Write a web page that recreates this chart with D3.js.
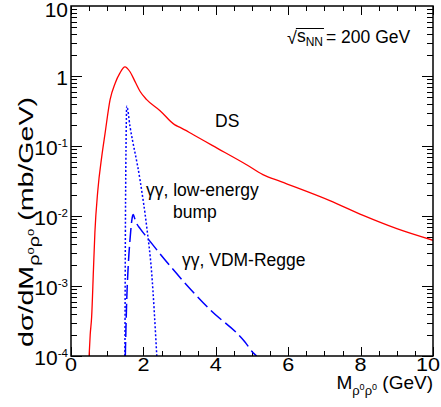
<!DOCTYPE html>
<html><head><meta charset="utf-8">
<script src="https://cdn.jsdelivr.net/npm/d3@7"></script>
<style>
body{margin:0;background:#fff}
svg{display:block}
text{font-family:"Liberation Sans",Arial,Helvetica,sans-serif;fill:#000}
</style>
</head><body>
<svg id="c" width="441" height="407"></svg>
<script>
// ---- data ----
const dsMass  = [0.50, 0.53, 0.57, 0.62, 0.66, 0.74, 0.85, 0.94, 1.08, 1.22, 1.35, 1.49, 1.63, 1.77, 1.91, 2.09, 2.46, 2.87, 3.00, 3.38, 3.90, 4.85, 5.30, 5.80, 7.15, 8.07, 9.00, 10.0];
const dsXsec  = [1e-4, 2.0e-4, 3.6e-4, 1.7e-3, 5.8e-3, 0.023, 0.071, 0.15, 0.46, 0.79, 1.10, 1.35, 1.15, 0.83, 0.60, 0.46, 0.32, 0.20, 0.186, 0.145, 0.102, 0.054, 0.039, 0.031, 0.0166, 0.0102, 0.0066, 0.0045];

const bumpMass = [1.49, 1.50, 1.52, 1.54, 1.63, 1.91, 2.09, 2.23, 2.37];
const bumpXsec = [1e-4, 3e-3, 0.1, 0.37, 0.19, 0.032, 0.0071, 0.0015, 1e-4];

const vdmMass = [1.50, 1.54, 1.58, 1.63, 1.70, 1.72, 1.76, 1.81, 1.91, 2.09, 3.84, 4.80, 5.04, 5.13];
const vdmXsec = [1e-4, 6.5e-4, 1.9e-3, 4.6e-3, 0.0100, 0.0105, 0.0092, 0.0079, 0.0066, 0.0050, 4.6e-4, 1.6e-4, 1.1e-4, 1e-4];

const xTickLabels = [0, 2, 4, 6, 8, 10];
const yTickExps = [1, 0, -1, -2, -3, -4];

// ---- layout ----
const W = 441;
const L = 71, R = 433, T = 6, B = 356;
const svg = d3.select("#c");
const x = d3.scaleLinear().domain([0, 10]).range([L, R]);
const y = d3.scaleLog().domain([1e-4, 10]).range([B, T]);

svg.append("defs").append("clipPath").attr("id", "clip")
  .append("rect").attr("x", L).attr("y", T).attr("width", R - L).attr("height", B - T);

// ---- ticks ----
const tk = svg.append("g").attr("stroke", "#000").attr("stroke-width", 1);
d3.range(0, 10.001, 0.5).forEach(v => {
  const major = Math.abs(v % 2) < 1e-6;
  const len = major ? 9 : 5;
  const px = Math.round(x(v)) + 0.5;
  tk.append("line").attr("x1", px).attr("x2", px).attr("y1", B).attr("y2", B - len);
  tk.append("line").attr("x1", px).attr("x2", px).attr("y1", T).attr("y2", T + len);
});
for (let e = -4; e <= 0; e++) {
  for (let m = 1; m <= 9; m++) {
    const v = m * Math.pow(10, e);
    const len = m === 1 ? 11 : 6;
    const py = Math.round(y(v)) + 0.5;
    tk.append("line").attr("x1", L).attr("x2", L + len).attr("y1", py).attr("y2", py);
    tk.append("line").attr("x1", R).attr("x2", R - len).attr("y1", py).attr("y2", py);
  }
}

// ---- curves ----
const line = d3.line().x(d => x(d[0])).y(d => y(d[1])).curve(d3.curveMonotoneX);
const plot = svg.append("g").attr("clip-path", "url(#clip)").attr("fill", "none");
plot.append("path").datum(d3.zip(dsMass, dsXsec)).attr("d", line)
  .attr("stroke", "#ff0000").attr("stroke-width", 1.3);
plot.append("path").datum(d3.zip(bumpMass, bumpXsec)).attr("d", line)
  .attr("stroke", "#0000ff").attr("stroke-width", 1.5).attr("stroke-dasharray", "2,2");
plot.append("path").datum(d3.zip(vdmMass, vdmXsec)).attr("d", line)
  .attr("stroke", "#0000ff").attr("stroke-width", 1.5).attr("stroke-dasharray", "14,5");

// ---- frame ----
svg.append("rect").attr("x", L).attr("y", T).attr("width", R - L).attr("height", B - T)
  .attr("fill", "none").attr("stroke", "#000").attr("stroke-width", 1.5);

// ---- tick labels ----
const xfs = 18, xsx = 1.2;
xTickLabels.forEach(v => {
  const t = svg.append("text").attr("text-anchor", "middle").attr("font-size", xfs).text(v);
  const w = t.node().getComputedTextLength() * xsx;
  const cx = Math.min(x(v), W - 1 - w / 2);
  t.attr("transform", `translate(${cx},${B + 15}) scale(${xsx},1)`);
});
const yfs = 20, ysx = 1.05;
yTickExps.forEach(e => {
  const py = Math.max(y(Math.pow(10, e)) + 8.5, 17);
  const t = svg.append("text")
    .attr("transform", `translate(68,${py}) scale(${ysx},1)`)
    .attr("text-anchor", "end").attr("font-size", yfs);
  if (e === 1) t.text("10");
  else if (e === 0) t.text("1");
  else {
    t.append("tspan").text("10");
    t.append("tspan").attr("dy", -8).attr("font-size", 11).text(String(e));
  }
});

// ---- axis titles ----
const xt = svg.append("text").attr("x", R).attr("y", 389).attr("text-anchor", "end").attr("font-size", 19);
xt.append("tspan").text("M");
xt.append("tspan").attr("dy", 6).attr("font-size", 13).text("ρ");
xt.append("tspan").attr("dy", -5).attr("font-size", 9).text("0");
xt.append("tspan").attr("dy", 5).attr("font-size", 13).text("ρ");
xt.append("tspan").attr("dy", -5).attr("font-size", 9).text("0");
xt.append("tspan").attr("dy", -1).text(" (GeV)");

const yt = svg.append("text").attr("transform", "translate(33,347) rotate(-90)")
  .attr("text-anchor", "start").attr("font-size", 20)
  .attr("textLength", 250).attr("lengthAdjust", "spacingAndGlyphs");
yt.append("tspan").text("dσ/dM");
yt.append("tspan").attr("dy", 6).attr("font-size", 14).text("ρ");
yt.append("tspan").attr("dy", -5).attr("font-size", 9).text("0");
yt.append("tspan").attr("dy", 5).attr("font-size", 14).text("ρ");
yt.append("tspan").attr("dy", -5).attr("font-size", 9).text("0");
yt.append("tspan").attr("dy", -1).text(" (mb/GeV)");

// ---- annotations ----
const ann = [
  {t: "DS", x: 215, y: 127},
  {t: "γγ, low-energy", x: 146, y: 196},
  {t: "bump", x: 173, y: 218},
  {t: "γγ, VDM-Regge", x: 182, y: 266}
];
ann.forEach(a => svg.append("text").attr("x", a.x).attr("y", a.y).attr("font-size", 17.5).text(a.t));

// sqrt(s_NN) = 200 GeV
const sq = svg.append("text").attr("x", 287).attr("y", 44).attr("font-size", 18).text("√");
const sqW = sq.node().getComputedTextLength();
const sn = svg.append("text").attr("x", 287 + sqW).attr("y", 42).attr("font-size", 17.5);
sn.append("tspan").text("s");
sn.append("tspan").attr("dy", 4).attr("font-size", 12).text("NN");
const snW = sn.node().getComputedTextLength();
svg.append("line").attr("x1", 287 + sqW - 1).attr("x2", 287 + sqW + snW + 1)
  .attr("y1", 28.5).attr("y2", 28.5).attr("stroke", "#000").attr("stroke-width", 1);
svg.append("text").attr("x", 287 + sqW + snW + 3).attr("y", 43).attr("font-size", 17.5).text("= 200 GeV");
</script>
</body></html>
